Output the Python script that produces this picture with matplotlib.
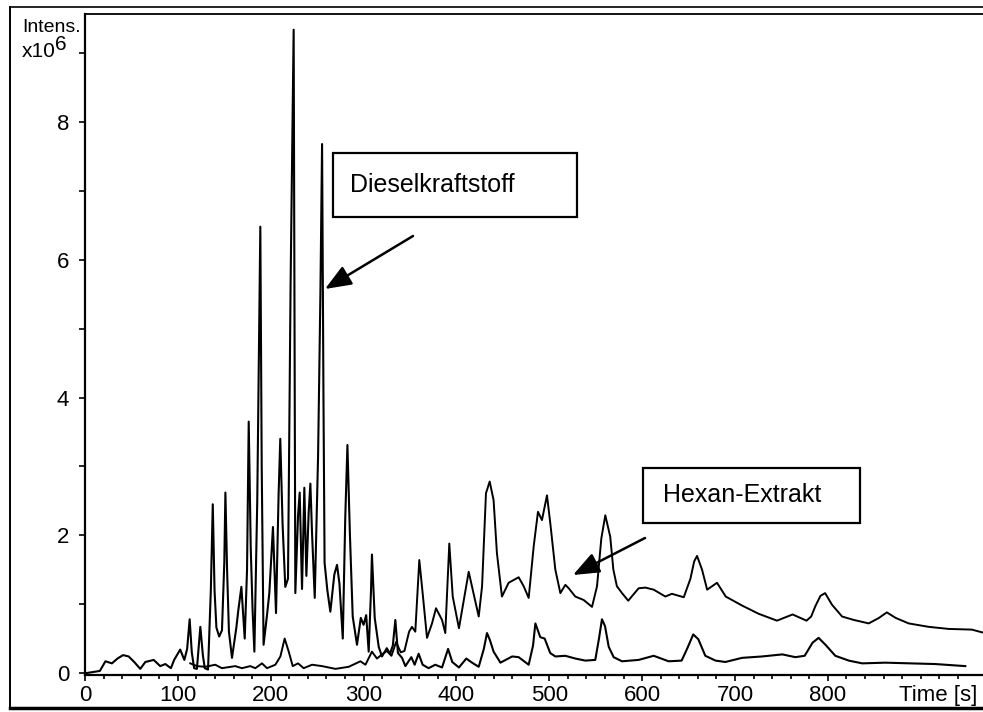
"""Chromatogram: Dieselkraftstoff vs. Hexan-Extrakt (TIC, intensity x10^6)."""

import matplotlib
matplotlib.use("Agg")
import matplotlib.pyplot as plt
from matplotlib.lines import Line2D
from matplotlib.patches import Rectangle

plt.rcParams["font.family"] = ["Liberation Sans", "DejaVu Sans"]

# --- data (time in s, intensity in 1e6 counts) ---
diesel_t = [2, 16, 22, 29, 35, 41, 47, 53, 59.5, 65, 74, 81, 86.5, 92.5, 96, 102.5,
            107, 110, 112.7, 115, 117.5, 120.5, 124.2, 127, 129, 132.5, 135.5, 137.6,
            139.5, 141.5, 144.5, 147.5, 150, 151.2, 153, 155, 158.3, 163, 165, 168.4,
            172, 174.5, 176.3, 178.5, 180.5, 182.4, 185.5, 187.5, 188.8, 190.3, 192.3,
            196, 198.5, 202.4, 205.7, 208.5, 210.3, 212.8, 215.7, 218.6, 221.4, 224.7,
            226.5, 229.4, 231.2, 233.7, 236.2, 238.4, 240.9, 242.7, 244.5, 247.4, 251,
            253.5, 255.3, 256.8, 258, 261, 264.2, 268.5, 271.4, 274, 277.6, 280.3,
            282.6, 285.3, 288.3, 292.9, 297, 300, 302.8, 305.5, 308, 309, 312, 316.3,
            319.8, 325, 328.5, 331.5, 334.2, 337, 341.4, 345, 351.4, 355, 359.3, 363.6,
            370, 377.2, 384.5, 391, 395.5, 402.7, 410.6, 416.8, 424, 429.5, 432.9, 436,
            440, 447.4, 460, 467, 477.8, 482.5, 485, 490.3, 495, 501, 506.5, 517.2, 528,
            538.8, 549.5, 553.5, 556.7, 560, 564, 569.3, 578.3, 596.2, 612.4, 628.5,
            642.5, 649, 655, 660.5, 668, 679, 689.6, 707.6, 729, 751, 765, 775, 783.5,
            790, 797.4, 808, 822.5, 837, 862, 887, 915.6, 948]
diesel_i = [0.0, 0.03, 0.17, 0.14, 0.21, 0.26, 0.24, 0.16, 0.06, 0.16, 0.19, 0.10, 0.13,
            0.07, 0.19, 0.34, 0.19, 0.35, 0.78, 0.30, 0.07, 0.06, 0.67, 0.25, 0.07, 0.05,
            1.20, 2.45, 1.20, 0.66, 0.53, 0.62, 1.60, 2.62, 1.50, 0.60, 0.22, 0.66, 0.90,
            1.25, 0.50, 1.50, 3.65, 1.80, 0.90, 0.31, 2.50, 5.00, 6.48, 3.00, 0.41, 0.84,
            1.16, 2.12, 0.87, 2.60, 3.40, 2.15, 1.25, 1.37, 5.65, 9.34, 1.16, 2.28, 2.62,
            1.22, 2.69, 1.41, 2.34, 2.75, 2.03, 1.09, 3.15, 5.50, 7.68, 4.00, 1.60, 1.20,
            0.89, 1.43, 1.57, 1.30, 0.50, 2.27, 3.31, 2.00, 0.82, 0.41, 0.80, 0.70, 0.84,
            0.31, 1.20, 1.72, 0.80, 0.38, 0.24, 0.36, 0.28, 0.40, 0.77, 0.29, 0.22, 0.10,
            0.23, 0.12, 0.28, 0.12, 0.07, 0.12, 0.08, 0.35, 0.16, 0.08, 0.21, 0.15, 0.09,
            0.35, 0.58, 0.48, 0.31, 0.15, 0.24, 0.23, 0.12, 0.40, 0.72, 0.52, 0.50, 0.29,
            0.24, 0.25, 0.21, 0.18, 0.19, 0.50, 0.78, 0.68, 0.38, 0.23, 0.17, 0.19, 0.25,
            0.17, 0.18, 0.37, 0.56, 0.49, 0.25, 0.18, 0.16, 0.22, 0.24, 0.27, 0.23, 0.25,
            0.44, 0.51, 0.41, 0.25, 0.18, 0.14, 0.15, 0.14, 0.13, 0.10]

hexan_t = [113.4, 120.5, 129.5, 140.3, 147.4, 161.8, 169, 178, 183.4, 190.6, 196, 205,
           210.4, 215, 219.4, 223.7, 229.4, 235.5, 244.5, 255.3, 269.7, 284, 296.6, 302,
           309, 314.4, 319.8, 325, 330, 335, 340, 344, 349, 352.1, 355.7, 360, 363.6,
           368.3, 373.7, 378, 384.5, 388, 392.3, 396, 402.7, 413.2, 417.5, 424, 427.6,
           431.8, 435.8, 440, 443.6, 449, 456.2, 467, 472.4, 477.8, 483.2, 487.8, 492.1,
           497.5, 501.1, 506.5, 511.9, 517.3, 520.9, 528, 537, 546, 551.4, 556, 560.3,
           565.6, 569, 572.8, 578.3, 585, 596.2, 603.4, 612.4, 625, 632, 644.8, 652,
           656, 659.1, 664.5, 670, 680.6, 690, 707.5, 725.4, 745.2, 762, 777, 782, 786.5,
           792, 797, 804.5, 815.3, 828, 844, 855, 863.5, 873, 887, 908.6, 930, 955, 969]
hexan_i = [0.14, 0.10, 0.09, 0.12, 0.07, 0.10, 0.07, 0.10, 0.07, 0.14, 0.07, 0.12, 0.24,
           0.50, 0.31, 0.10, 0.14, 0.07, 0.12, 0.10, 0.06, 0.09, 0.17, 0.12, 0.31, 0.21,
           0.27, 0.32, 0.25, 0.45, 0.30, 0.32, 0.60, 0.67, 0.60, 1.64, 1.16, 0.51, 0.72,
           0.94, 0.77, 0.58, 1.88, 1.11, 0.65, 1.47, 1.21, 0.82, 1.26, 2.61, 2.78, 2.51,
           1.74, 1.11, 1.31, 1.39, 1.26, 1.09, 1.84, 2.34, 2.22, 2.58, 2.17, 1.50, 1.16,
           1.28, 1.23, 1.11, 1.06, 0.96, 1.26, 1.95, 2.29, 1.98, 1.50, 1.26, 1.16, 1.05,
           1.23, 1.24, 1.21, 1.11, 1.15, 1.10, 1.37, 1.62, 1.70, 1.50, 1.21, 1.31, 1.11,
           0.98, 0.86, 0.76, 0.85, 0.76, 0.82, 0.97, 1.12, 1.16, 0.99, 0.82, 0.77, 0.72,
           0.80, 0.88, 0.80, 0.72, 0.67, 0.64, 0.63, 0.58]

x_major = [0, 100, 200, 300, 400, 500, 600, 700, 800]
y_major = [0, 2, 4, 6, 8]


def main() -> None:
    W, H = 983, 712
    fig = plt.figure(figsize=(W / 100, H / 100), dpi=100)

    # axes box placed in pixel terms of the scan
    left, right, top, bottom = 85, 983, 14, 674.5
    ax = fig.add_axes([left / W, 1 - bottom / H, (right - left) / W, (bottom - top) / H])
    px_per_s = 0.9286
    px_per_unit = 68.875
    ax.set_xlim(0, (right - left) / px_per_s)
    ax.set_ylim(-(bottom - 673) / px_per_unit, (673 - top) / px_per_unit)

    ax.plot(diesel_t, diesel_i, color="black", lw=1.5)
    ax.plot(hexan_t, hexan_i, color="black", lw=1.4)

    ax.spines["right"].set_visible(False)
    ax.spines["left"].set_linewidth(1.6)
    ax.spines["bottom"].set_linewidth(1.6)
    ax.spines["top"].set_linewidth(1.3)

    ax.set_xticks(x_major)
    ax.set_xticks(range(0, 960, 20), minor=True)
    ax.set_yticks(y_major)
    ax.set_yticks(range(1, 10), minor=True)
    ax.tick_params(axis="both", which="both", direction="out", width=1.2, colors="black")
    ax.tick_params(axis="x", which="major", length=4.5, pad=3, labelsize=16)
    ax.tick_params(axis="x", which="minor", length=3)
    ax.tick_params(axis="y", which="both", length=4.5, pad=7, labelsize=16)

    # "Time [s]" sits in the tick label row
    ax.annotate("Time [s]", xy=(919, 0), xycoords=("data", "axes fraction"),
                xytext=(0, -7.5), textcoords="offset points", ha="center", va="top",
                fontsize=16)

    # unit label top left
    fig.text(22 / W, 1 - 32 / H, "Intens.", fontsize=14, ha="left", va="baseline")
    fig.text(22 / W, 1 - 57 / H, "x10", fontsize=15, ha="left", va="baseline")
    fig.text(55 / W, 1 - 50 / H, "6", fontsize=15, ha="left", va="baseline")

    def to_data(px, py):
        return (px - left) / px_per_s, (673 - py) / px_per_unit

    # label boxes
    for (x0, y0, x1, y1), label, tx in [((333, 153, 577, 217), "Dieselkraftstoff", 350),
                                        ((643, 468, 860, 523), "Hexan-Extrakt", 663)]:
        dx0, dy0 = to_data(x0, y1)
        dx1, dy1 = to_data(x1, y0)
        ax.add_patch(Rectangle((dx0, dy0), dx1 - dx0, dy1 - dy0, fill=False,
                               lw=1.6, ec="black", zorder=3))
        ax.text(to_data(tx, 0)[0], (dy0 + dy1) / 2, label, fontsize=18,
                ha="left", va="center", zorder=3)

    # arrows
    for tail, tip in [((413, 236), (325, 289)), ((645, 538), (573, 575))]:
        ax.annotate("", xy=to_data(*tip), xytext=to_data(*tail),
                    arrowprops=dict(arrowstyle="-|>,head_length=0.8,head_width=0.32",
                                    mutation_scale=20, lw=1.8, color="black",
                                    shrinkA=0, shrinkB=0))

    # outer frame of the scanned figure
    frame = [((10, 7), (983, 7), 1.2), ((10, 7), (10, 708), 1.4), ((10, 708), (983, 708), 2.5)]
    for (xa, ya), (xb, yb), lw in frame:
        fig.add_artist(Line2D([xa / W, xb / W], [1 - ya / H, 1 - yb / H],
                              transform=fig.transFigure, color="black", lw=lw))

    fig.savefig("out.png", dpi=100)


if __name__ == "__main__":
    main()
